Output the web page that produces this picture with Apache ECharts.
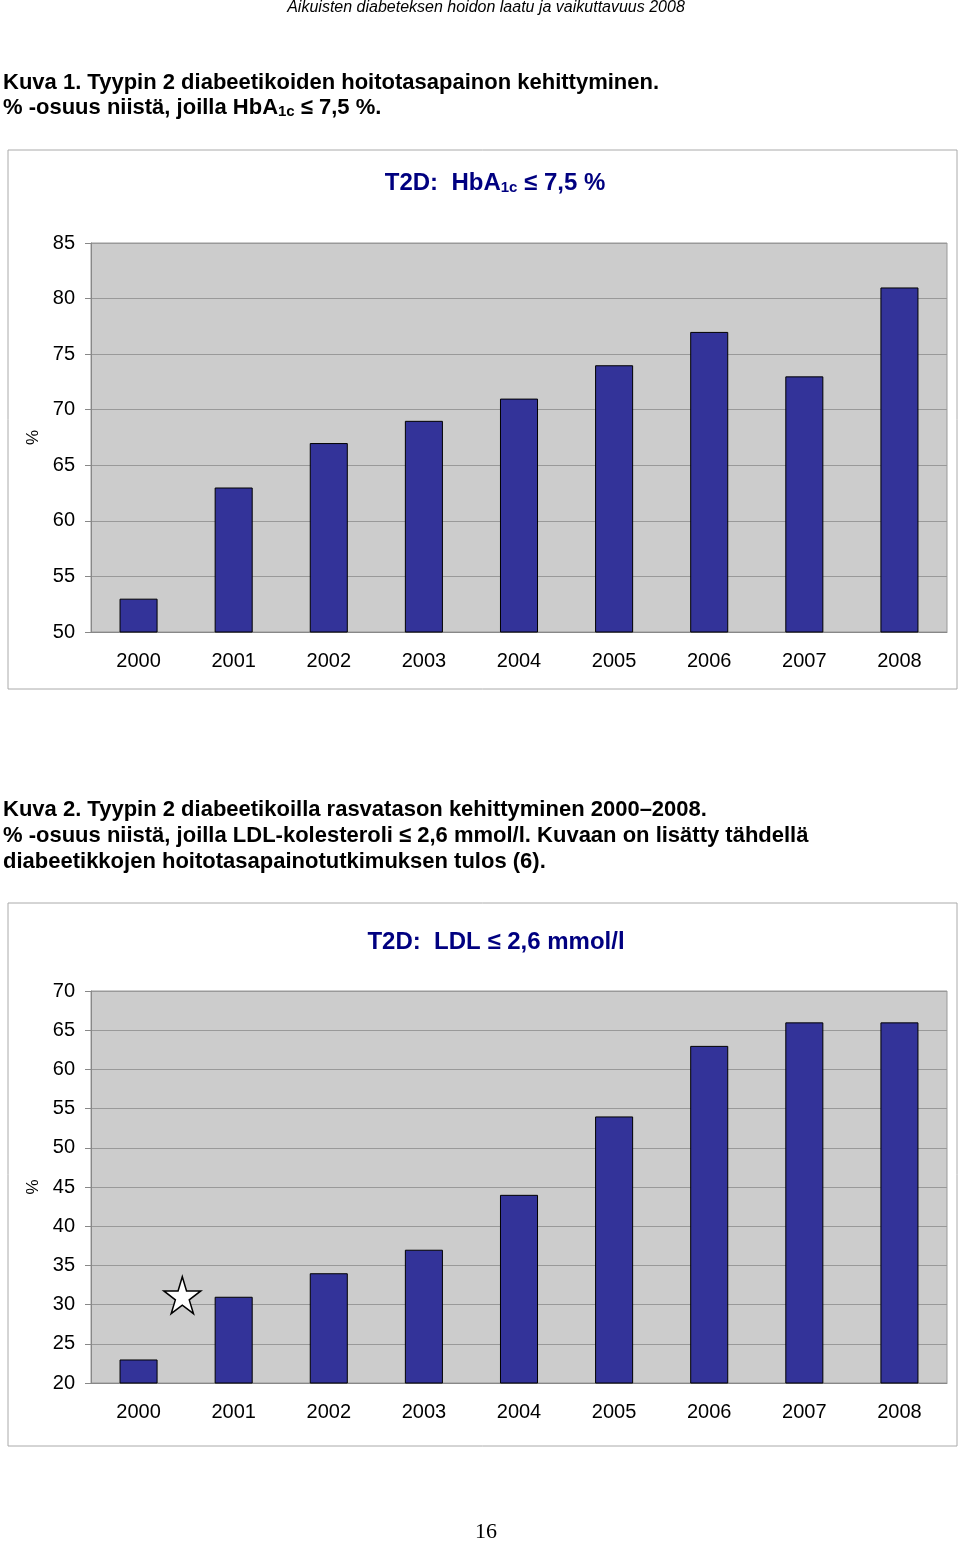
<!DOCTYPE html>
<html lang="fi">
<head>
    <meta charset="UTF-8">
    <title>Aikuisten diabeteksen hoidon laatu ja vaikuttavuus 2008</title>
    <script src="https://cdn.jsdelivr.net/npm/echarts@6/dist/echarts.min.js"></script>
    <style>
        body { margin: 0; background: #fff; }
    </style>
</head>
<body>
<div id="main" style="width: 960px;height:1542px;"></div>
<script type="text/javascript">
    // data
    var years = ['2000', '2001', '2002', '2003', '2004', '2005', '2006', '2007', '2008'];
    var hba1cValues = [53, 63, 67, 69, 71, 74, 77, 73, 81];
    var ldlValues = [23, 31, 34, 37, 44, 54, 63, 66, 66];
    // survey result marked with a star (year position, %)
    var starPoint = [2000.46, 31.2];

    var font = 'Arial, "Liberation Sans", sans-serif';
    var barColor = '#333399';
    var starPath = 'path://M50,0 L61,35 L98,35 L68,57 L79,91 L50,70 L21,91 L32,57 L2,35 L39,35 Z';

    var myChart = echarts.init(document.getElementById('main'));

    function catAxis(gridIndex) {
        return {
            type: 'category',
            gridIndex: gridIndex,
            data: years,
            axisLine: {lineStyle: {color: '#888'}},
            axisTick: {length: 6, lineStyle: {color: '#888'}},
            axisLabel: {color: '#000', fontSize: 20, fontFamily: font, margin: 19}
        };
    }
    function valAxis(gridIndex, min, max, interval) {
        return {
            type: 'value',
            gridIndex: gridIndex,
            min: min,
            max: max,
            interval: interval,
            name: '%',
            nameLocation: 'middle',
            nameRotate: 90,
            nameGap: 49,
            nameTextStyle: {color: '#000', fontSize: 17, fontFamily: font},
            axisLine: {show: true, lineStyle: {color: '#888'}},
            axisTick: {show: true, length: 6, lineStyle: {color: '#888'}},
            axisLabel: {color: '#000', fontSize: 20, fontFamily: font, margin: 16},
            splitLine: {lineStyle: {color: '#999'}}
        };
    }

    var titleRich = {
        sub: {fontSize: 15, fontWeight: 'bold', color: '#000080', fontFamily: font, padding: [9, 0, 0, 0]}
    };
    var capRich = {
        sub: {fontSize: 15, fontWeight: 'bold', color: '#000', fontFamily: font, padding: [9, 0, 0, 0]}
    };

    var option = {
        backgroundColor: '#fff',
        animation: false,
        title: [{
            text: 'T2D:  HbA{sub|1c} ≤ 7,5 %',
            left: 490,
            top: 166,
            textAlign: 'center',
            textStyle: {color: '#000080', fontSize: 24, fontWeight: 'bold', fontFamily: font, rich: titleRich}
        }, {
            text: 'T2D:  LDL ≤ 2,6 mmol/l',
            left: 491,
            top: 925,
            textAlign: 'center',
            textStyle: {color: '#000080', fontSize: 24, fontWeight: 'bold', fontFamily: font}
        }],
        grid: [{
            left: 91, top: 243, width: 856, height: 389,
            show: true, backgroundColor: '#cccccc', borderColor: '#999', borderWidth: 1
        }, {
            left: 91, top: 991, width: 856, height: 392,
            show: true, backgroundColor: '#cccccc', borderColor: '#999', borderWidth: 1
        }],
        xAxis: [catAxis(0), catAxis(1), {
            type: 'value', gridIndex: 1, min: 1999.5, max: 2008.5, show: false
        }],
        yAxis: [valAxis(0, 50, 85, 5), valAxis(1, 20, 70, 5)],
        series: [{
            type: 'bar',
            xAxisIndex: 0,
            yAxisIndex: 0,
            data: hba1cValues,
            barCategoryGap: '60%',
            itemStyle: {color: barColor, borderColor: '#000', borderWidth: 1}
        }, {
            type: 'bar',
            xAxisIndex: 1,
            yAxisIndex: 1,
            data: ldlValues,
            barCategoryGap: '60%',
            itemStyle: {color: barColor, borderColor: '#000', borderWidth: 1}
        }, {
            type: 'scatter',
            xAxisIndex: 2,
            yAxisIndex: 1,
            data: [starPoint],
            symbol: starPath,
            symbolSize: 37,
            itemStyle: {color: '#fff', borderColor: '#000', borderWidth: 1.5, opacity: 1}
        }],
        graphic: [
            {type: 'text', x: 486, y: 8, style: {
                text: 'Aikuisten diabeteksen hoidon laatu ja vaikuttavuus 2008',
                fontSize: 16, fontStyle: 'italic', fontFamily: font, fill: '#000',
                align: 'center', verticalAlign: 'middle'}},
            {type: 'text', left: 3, top: 70, style: {
                text: 'Kuva 1. Tyypin 2 diabeetikoiden hoitotasapainon kehittyminen.\n% -osuus niistä, joilla HbA{sub|1c} ≤ 7,5 %.',
                fontSize: 22, fontWeight: 'bold', lineHeight: 25, fontFamily: font, fill: '#000', rich: capRich}},
            {type: 'rect', shape: {x: 8, y: 150, width: 949, height: 539},
                style: {fill: 'none', stroke: '#aaa', lineWidth: 1}, z: -1},
            {type: 'text', left: 3, top: 797, style: {
                text: 'Kuva 2. Tyypin 2 diabeetikoilla rasvatason kehittyminen 2000–2008.\n% -osuus niistä, joilla LDL-kolesteroli ≤ 2,6 mmol/l. Kuvaan on lisätty tähdellä\ndiabeetikkojen hoitotasapainotutkimuksen tulos (6).',
                fontSize: 22, fontWeight: 'bold', lineHeight: 26, fontFamily: font, fill: '#000'}},
            {type: 'rect', shape: {x: 8, y: 903, width: 949, height: 543},
                style: {fill: 'none', stroke: '#aaa', lineWidth: 1}, z: -1},
            {type: 'text', x: 486, y: 1532, style: {
                text: '16', fontSize: 22, fontFamily: '"Liberation Serif", "DejaVu Serif", serif',
                fill: '#000', align: 'center', verticalAlign: 'middle'}}
        ]
    };
    myChart.setOption(option);
</script>
</body>
</html>
